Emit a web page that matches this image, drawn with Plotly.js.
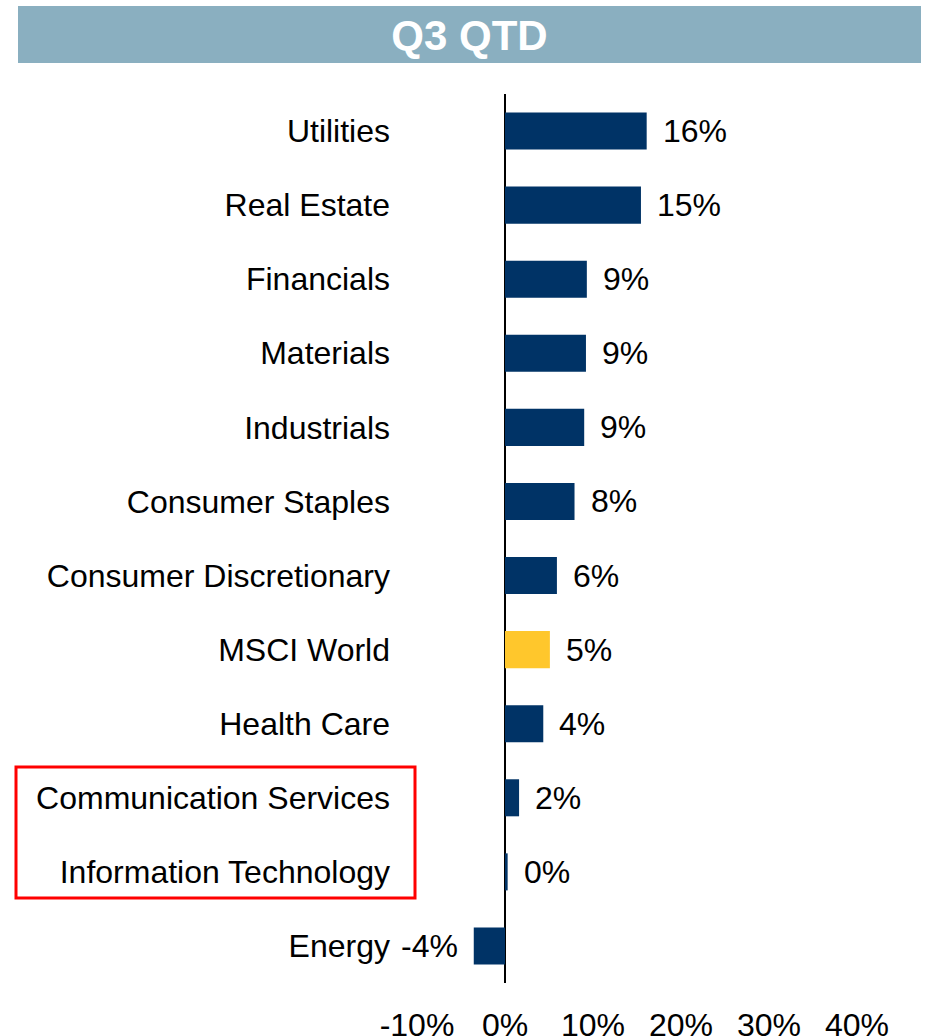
<!DOCTYPE html>
<html>
<head>
<meta charset="utf-8">
<script src="https://cdn.plot.ly/plotly-3.0.1.min.js"></script>
<style>
  html, body { margin: 0; padding: 0; background: #ffffff; }
  #chart { width: 928px; height: 1036px; }
</style>
</head>
<body>
<div id="chart"></div>
<script>
// Categories listed top to bottom
var categories = [
  "Utilities", "Real Estate", "Financials", "Materials", "Industrials",
  "Consumer Staples", "Consumer Discretionary", "MSCI World", "Health Care",
  "Communication Services", "Information Technology", "Energy"
];
// Q3 QTD returns, %
var returns = [16.1, 15.45, 9.3, 9.2, 9.0, 7.9, 5.9, 5.1, 4.35, 1.6, 0.3, -3.55];
var highlightCategory = "MSCI World";
var xTickValues = [-10, 0, 10, 20, 30, 40];
var xTickLabels = ["-10%", "0%", "10%", "20%", "30%", "40%"];
var chartTitle = "Q3 QTD";

var NAVY = "#003366";
var GOLD = "#FFC72C";
var FONT = "Liberation Sans, Arial, sans-serif";

var barColors = categories.map(function (c) { return c === highlightCategory ? GOLD : NAVY; });

var trace = {
  type: "bar",
  orientation: "h",
  x: returns,
  y: categories,
  marker: { color: barColors, line: { width: 0 } },
  hoverinfo: "x+y"
};

var annotations = categories.map(function (c, i) {
  var v = returns[i];
  var r = Math.round(v);
  return {
    x: v, y: c, xref: "x", yref: "y",
    text: (r < 0 ? "-" + Math.abs(r) : String(r)) + "%",
    showarrow: false,
    xanchor: v >= 0 ? "left" : "right",
    xshift: v >= 0 ? 14 : -14,
    yanchor: "middle",
    font: { family: FONT, size: 32, color: "#000000" }
  };
});

var layout = {
  width: 928,
  height: 1036,
  margin: { l: 417, r: 71, t: 94, b: 53 },
  paper_bgcolor: "#ffffff",
  plot_bgcolor: "#ffffff",
  showlegend: false,
  bargap: 0.5,
  title: {
    text: chartTitle,
    font: { family: FONT, size: 42, color: "#ffffff", weight: "bold" },
    xref: "container", yref: "container",
    x: 469.5 / 928, xanchor: "center",
    y: 1 - 35 / 1036, yanchor: "middle"
  },
  xaxis: {
    range: [-10, 40],
    tickmode: "array",
    tickvals: xTickValues,
    ticktext: xTickLabels,
    ticks: "",
    ticklabelstandoff: 20,
    showgrid: false,
    showline: false,
    zeroline: true,
    zerolinecolor: "#000000",
    zerolinewidth: 2,
    tickfont: { family: FONT, size: 32, color: "#000000" },
    fixedrange: true
  },
  yaxis: {
    type: "category",
    autorange: "reversed",
    ticks: "",
    ticklabelstandoff: 26,
    showgrid: false,
    showline: false,
    zeroline: false,
    tickfont: { family: FONT, size: 32, color: "#000000" },
    fixedrange: true
  },
  shapes: [
    {
      type: "rect", layer: "below",
      xref: "paper", yref: "paper",
      x0: (18 - 417) / 440, x1: (921 - 417) / 440,
      y0: (983 - 63) / 889, y1: (983 - 6) / 889,
      fillcolor: "#8AAFC0", line: { width: 0 }
    },
    {
      type: "rect",
      xref: "paper", yref: "paper",
      x0: (16 - 417) / 440, x1: (415 - 417) / 440,
      y0: (983 - 898) / 889, y1: (983 - 767) / 889,
      fillcolor: "rgba(0,0,0,0)",
      line: { color: "#FF0000", width: 3 }
    }
  ],
  annotations: annotations
};

Plotly.newPlot("chart", [trace], layout, { displayModeBar: false, staticPlot: true });
</script>
</body>
</html>
